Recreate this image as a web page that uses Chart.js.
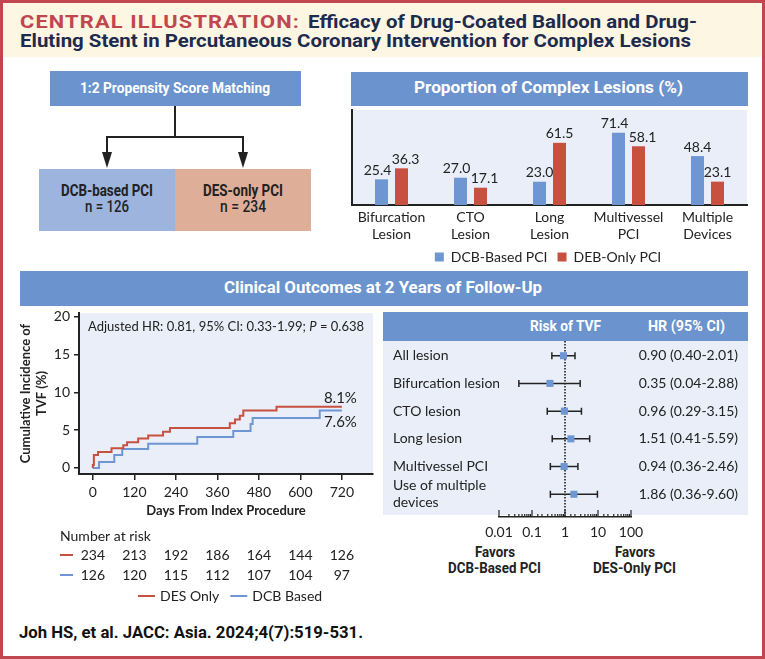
<!DOCTYPE html>
<html><head><meta charset="utf-8">
<script src="https://cdn.jsdelivr.net/npm/chart.js@4.4.1/dist/chart.umd.min.js"></script>
<style>
html,body{margin:0;padding:0;background:#fff;}
#page{position:relative;width:765px;height:659px;overflow:hidden;background:#fff;font-family:Roboto,'Noto Sans',sans-serif;}
.frame{position:absolute;left:0;top:0;width:765px;height:659px;box-sizing:border-box;border:3px solid #c0474f;z-index:20;pointer-events:none;}
.box{position:absolute;}
.t{position:absolute;white-space:nowrap;transform-origin:0 50%;z-index:15;}
canvas{position:absolute;}
</style></head>
<body>
<div id="page">
  <div class="frame"></div>
  <canvas id="bar" width="401" height="166" style="left:349px;top:108px;z-index:5"></canvas>
  <canvas id="km" width="380" height="300" style="left:0px;top:305px;z-index:5"></canvas>
  <canvas id="forest" width="365" height="200" style="left:383px;top:341px;z-index:6"></canvas>
  <svg id="flow" width="765" height="659" style="position:absolute;left:0;top:0;z-index:4" xmlns="http://www.w3.org/2000/svg"></svg>
</div>
<script>
// ---------------- DATA ----------------
const barCategories = [['Bifurcation','Lesion'],['CTO','Lesion'],['Long','Lesion'],['Multivessel','PCI'],['Multiple','Devices']];
const barSeriesNames = ['DCB-Based PCI','DEB-Only PCI'];
const dcbBasedPct = [25.4, 27.0, 23.0, 71.4, 48.4];
const debOnlyPct  = [36.3, 17.1, 61.5, 58.1, 23.1];

const kmSeriesNames = ['DES Only','DCB Based'];
const desDays = [0, 0, 3, 15, 54, 88, 99, 131, 160, 203, 223, 396, 411, 425, 435, 531, 720];
const desTVF  = [0, 0.4, 1.7, 2.1, 2.6, 3.0, 3.4, 3.9, 4.3, 4.8, 5.3, 5.9, 6.4, 6.9, 7.6, 8.1, 8.1];
const dcbDays = [0, 18, 62, 85, 160, 302, 406, 456, 462, 656, 720];
const dcbTVF  = [0, 0.8, 1.7, 2.5, 3.2, 4.1, 4.9, 5.8, 6.6, 7.6, 7.6];
const kmDayTicks = [0, 120, 240, 360, 480, 600, 720];
const kmPctTicks = [0, 5, 10, 15, 20];
const riskDES = [234, 213, 192, 186, 164, 144, 126];
const riskDCB = [126, 120, 115, 112, 107, 104, 97];
const adjustedHR = '0.81', adjustedCI = '0.33-1.99', adjustedP = '0.638';

const forestRows = ['All lesion','Bifurcation lesion','CTO lesion','Long lesion','Multivessel PCI',['Use of multiple','devices']];
const forestHR = [0.90, 0.35, 0.96, 1.51, 0.94, 1.86];
const forestLo = [0.40, 0.04, 0.29, 0.41, 0.36, 0.36];
const forestHi = [2.01, 2.88, 3.15, 5.59, 2.46, 9.60];
const forestTicks = [0.01, 0.1, 1, 10, 100];

// ---------------- STYLE ----------------
const HDR = '#6b93cd', BLUE = '#6e96d3', RED = '#c8503e', PANEL = '#e9eef8', TXT = '#222', NAVY = '#1d2b4f';
Chart.defaults.font.family = 'Lato';
Chart.defaults.color = TXT;
const noPad = s => { s.paddingTop = 0; s.paddingBottom = 0; s.paddingLeft = 0; s.paddingRight = 0; };

const page = document.getElementById('page');
function rect(l,t,w,h,bg,z){const d=document.createElement('div');d.className='box';Object.assign(d.style,{left:l+'px',top:t+'px',width:w+'px',height:h+'px',background:bg,zIndex:z||1});page.appendChild(d);return d;}
function txt(s,left,yc,w,size,color,weight,ls,fam){
  const d=document.createElement('div');d.className='t';d.textContent=s;
  Object.assign(d.style,{left:left+'px',top:(yc-size/2)+'px',fontSize:size+'px',lineHeight:size+'px',color:color,fontWeight:weight||700,letterSpacing:(ls||0)+'px',fontFamily:fam||"Roboto,'Noto Sans',sans-serif"});
  page.appendChild(d);
  const nat=d.getBoundingClientRect().width;
  d.style.transform='scaleX('+(w/nat)+')';
}

// header band
rect(3,3,759,54,'#fdf6e2',1);
txt('CENTRAL ILLUSTRATION:',20,21.7,280,19,'#c0474f',700,1);
txt('Efficacy of Drug-Coated Balloon and Drug-',308,21.7,389,19,NAVY,700);
txt('Eluting Stent in Percutaneous Coronary Intervention for Complex Lesions',20,40,671,19,NAVY,700);

// flow chart
rect(50,71,251,35,HDR,2);
txt('1:2 Propensity Score Matching',80,88,190,15,'#fff',700);
rect(39,169,136,62,'#9db4de',2);
rect(175,169,136,62,'#deae98',2);
txt('DCB-based PCI',61,191,92,16,TXT,700);
txt('n = 126',85,207,44,16,TXT,500);
txt('DES-only PCI',203,191,80,16,TXT,700);
txt('n = 234',220,207,46,16,TXT,500);
document.getElementById('flow').innerHTML =
  '<path d="M175 106 V137 M107 137 H243 M107 136 V153 M243 136 V153" stroke="#222" stroke-width="2" fill="none"/>'+
  '<path d="M102 152 L112 152 L107 168 Z M238 152 L248 152 L243 168 Z" fill="#222"/>';

// bar header
rect(351,72,397,34,HDR,2);
txt('Proportion of Complex Lesions (%)',414,88,269,16,'#fff',700);
rect(352,110,395,95,PANEL,1);

// clinical header
rect(20,271,728,35,HDR,2);
txt('Clinical Outcomes at 2 Years of Follow-Up',224,288,318,16,'#fff',700);

// forest header & panel
rect(383,312,365,29,HDR,2);
txt('Risk of TVF',530,326,71,14,'#fff',700);
txt('HR (95% CI)',648,326,77,14,'#fff',700);
rect(383,341,365,174,PANEL,1);
txt('Favors',475,552,40,14,TXT,700);
txt('DCB-Based PCI',448,568,93,14,TXT,700);
txt('Favors',615,552,40,14,TXT,700);
txt('DES-Only PCI',593,568,83,14,TXT,700);

// citation
txt('Joh HS, et al. JACC: Asia. 2024;4(7):519-531.',19,632.5,344,16,'#111',700);

// ---------------- BAR CHART ----------------
const barLabelPlugin = {
  id:'barLabels',
  afterDatasetsDraw(chart){
    const ctx=chart.ctx; ctx.save();
    ctx.font='14px Lato'; ctx.fillStyle=TXT; ctx.textAlign='center'; ctx.textBaseline='bottom';
    const m0=chart.getDatasetMeta(0).data, m1=chart.getDatasetMeta(1).data;
    chart.data.datasets.forEach((ds,di)=>{
      chart.getDatasetMeta(di).data.forEach((bar,i)=>{
        const close=Math.abs(m0[i].y-m1[i].y)<18;
        const shift=close?(di===0?-4:4):0;
        ctx.fillText(ds.data[i].toFixed(1), bar.x+shift, bar.y-2);
      });
    });
    ctx.restore();
  }
};
new Chart(document.getElementById('bar'),{
  type:'bar',
  data:{labels:barCategories,datasets:[
    {label:barSeriesNames[0],data:dcbBasedPct,backgroundColor:BLUE,borderWidth:0},
    {label:barSeriesNames[1],data:debOnlyPct,backgroundColor:RED,borderWidth:0}]},
  options:{
    responsive:false,animation:false,devicePixelRatio:1,
    categoryPercentage:0.506,barPercentage:0.65,
    layout:{padding:{left:0,right:3,top:2,bottom:0}},
    plugins:{tooltip:{enabled:false},
      legend:{position:'bottom',labels:{font:{size:14},color:TXT,boxWidth:9,boxHeight:9,padding:10}}},
    scales:{
      x:{grid:{display:false,drawTicks:false},border:{display:true,color:TXT,width:2},
         ticks:{font:{size:14},color:TXT,padding:4,maxRotation:0,autoSkip:false},
         afterFit(s){s.height=35;}},
      y:{min:0,max:94,grid:{display:false,drawTicks:false},border:{display:true,color:TXT,width:2},
         ticks:{display:false},afterFit(s){s.width=3;}}
    }
  },
  plugins:[barLabelPlugin]
});

// ---------------- KM CHART ----------------
const kmPlugin = {
  id:'kmExtras',
  beforeDraw(chart){
    const {ctx,chartArea:a}=chart; ctx.save(); ctx.fillStyle=PANEL;
    ctx.fillRect(a.left,a.top,a.right-a.left,a.bottom-a.top); ctx.restore();
  },
  afterDraw(chart){
    const {ctx,chartArea:a,scales:{x,y}}=chart;
    const ds=chart.data.datasets;
    ctx.save(); ctx.fillStyle=TXT; ctx.textBaseline='middle';
    let tx=a.left+9, ty=a.top+14;
    const parts=[['Adjusted HR: '+adjustedHR+', 95% CI: '+adjustedCI+'; ','normal'],['P','italic'],[' = '+adjustedP,'normal']];
    parts.forEach(([s,st])=>{ctx.font=st+' 13px Lato';ctx.textAlign='left';ctx.fillText(s,tx,ty);tx+=ctx.measureText(s).width;});
    ctx.font='15px Lato'; ctx.textAlign='right';
    const offs=[-9,12];
    ds.forEach((d,i)=>{const last=d.data[d.data.length-1];
      ctx.fillText(last.y.toFixed(1)+'%', x.getPixelForValue(last.x)+15, y.getPixelForValue(last.y)+offs[i]);});
    ctx.font='14px Lato'; ctx.textAlign='left';
    const lx=a.left-19;
    ctx.fillText('Number at risk',lx,a.bottom+62);
    const rows=[riskDES,riskDCB];
    rows.forEach((r,ri)=>{
      const ry=a.bottom+81+ri*20;
      ctx.strokeStyle=ds[ri].borderColor; ctx.lineWidth=2;
      ctx.beginPath(); ctx.moveTo(lx,ry); ctx.lineTo(lx+13,ry); ctx.stroke();
      ctx.textAlign='center';
      r.forEach((n,k)=>ctx.fillText(String(n),x.getPixelForValue(kmDayTicks[k]),ry));
      ctx.textAlign='left';
    });
    let gx=138; const gy=a.bottom+122;
    ds.forEach((d)=>{
      ctx.strokeStyle=d.borderColor; ctx.lineWidth=2;
      ctx.beginPath(); ctx.moveTo(gx,gy); ctx.lineTo(gx+17,gy); ctx.stroke();
      gx+=22; ctx.fillText(d.label,gx,gy); gx+=ctx.measureText(d.label).width+11;
    });
    ctx.restore();
  }
};
new Chart(document.getElementById('km'),{
  type:'line',
  data:{datasets:[
    {label:kmSeriesNames[0],data:desDays.map((d,i)=>({x:d,y:desTVF[i]})),stepped:'before',borderColor:RED,borderWidth:2,pointRadius:0,fill:false},
    {label:kmSeriesNames[1],data:dcbDays.map((d,i)=>({x:d,y:dcbTVF[i]})),stepped:'before',borderColor:BLUE,borderWidth:2,pointRadius:0,fill:false}]},
  options:{
    responsive:false,animation:false,devicePixelRatio:1,
    layout:{padding:{left:0,right:7,top:8,bottom:0}},
    plugins:{legend:{display:false},tooltip:{enabled:false}},
    scales:{
      x:{type:'linear',min:-40,max:810,
         afterBuildTicks(s){s.ticks=kmDayTicks.map(v=>({value:v}));},
         grid:{display:true,drawOnChartArea:false,drawTicks:true,tickLength:6,color:TXT,lineWidth:1.5},
         border:{display:true,color:TXT,width:2},
         ticks:{font:{size:14},color:TXT,padding:4,maxRotation:0,autoSkip:false},
         title:{display:true,text:'Days From Index Procedure',font:{size:13,weight:'bold'},color:TXT,padding:{top:0,bottom:86}},
         afterFit(s){s.height=131;noPad(s);}},
      y:{type:'linear',min:-0.8,max:20.5,
         afterBuildTicks(s){s.ticks=kmPctTicks.map(v=>({value:v}));},
         grid:{display:true,drawOnChartArea:false,drawTicks:true,tickLength:5,color:TXT,lineWidth:1.5},
         border:{display:true,color:TXT,width:2},
         ticks:{font:{size:14},color:TXT,padding:4,autoSkip:false},
         title:{display:true,text:['Cumulative Incidence of','TVF (%)'],font:{size:13,weight:'bold'},color:TXT,padding:{top:18,bottom:0}},
         afterFit(s){s.width=79;noPad(s);}}
    }
  },
  plugins:[kmPlugin]
});

// ---------------- FOREST PLOT ----------------
const hrLabels = forestHR.map((v,i)=>v.toFixed(2)+' ('+forestLo[i].toFixed(2)+'-'+forestHi[i].toFixed(2)+')');
const isDecade = v => Math.abs(Math.log10(v)-Math.round(Math.log10(v)))<1e-6;
const forestPlugin = {
  id:'forestExtras',
  beforeDatasetsDraw(chart){
    const {ctx,chartArea:a,scales:{x,y}}=chart; ctx.save();
    const x1=x.getPixelForValue(1);
    ctx.strokeStyle='#111'; ctx.lineWidth=1.5; ctx.setLineDash([1.5,1.5]);
    ctx.beginPath(); ctx.moveTo(x1,0); ctx.lineTo(x1,a.bottom); ctx.stroke();
    ctx.setLineDash([]);
    ctx.strokeStyle=TXT; ctx.lineWidth=1.5;
    forestHR.forEach((v,i)=>{
      const yy=y.getPixelForValue(i), xl=x.getPixelForValue(forestLo[i]), xh=x.getPixelForValue(forestHi[i]);
      ctx.beginPath(); ctx.moveTo(xl,yy); ctx.lineTo(xh,yy);
      ctx.moveTo(xl,yy-3.5); ctx.lineTo(xl,yy+3.5); ctx.moveTo(xh,yy-3.5); ctx.lineTo(xh,yy+3.5); ctx.stroke();
    });
    ctx.restore();
  },
  afterDraw(chart){
    const {ctx,chartArea:a,scales:{x}}=chart; ctx.save();
    ctx.strokeStyle=TXT; ctx.lineWidth=1.2;
    x.ticks.forEach(t=>{
      const px=x.getPixelForValue(t.value); const len=isDecade(t.value)?7:3;
      ctx.beginPath(); ctx.moveTo(px,a.bottom); ctx.lineTo(px,a.bottom-len); ctx.stroke();
    });
    ctx.restore();
  }
};
new Chart(document.getElementById('forest'),{
  type:'scatter',
  data:{datasets:[{label:'HR',data:forestHR.map((v,i)=>({x:v,y:i})),pointStyle:'rect',pointRadius:5,backgroundColor:BLUE,borderWidth:0}]},
  options:{
    responsive:false,animation:false,devicePixelRatio:1,
    layout:{padding:{left:10,right:10,top:0,bottom:0}},
    plugins:{legend:{display:false},tooltip:{enabled:false}},
    scales:{
      x:{type:'logarithmic',min:0.01,max:100,
         grid:{display:false,drawTicks:false},border:{display:true,color:TXT,width:1.5},
         ticks:{font:{size:14},color:TXT,padding:7,autoSkip:false,maxRotation:0,
                callback:(v)=>{const k=forestTicks.findIndex(t=>Math.abs(Math.log10(t)-Math.log10(v))<1e-6);return k>=0?String(forestTicks[k]):'';}},
         afterFit(s){s.height=24;noPad(s);}},
      y:{type:'linear',position:'left',min:-0.35,max:5.82,reverse:true,
         afterBuildTicks(s){s.ticks=forestRows.map((r,i)=>({value:i}));},
         grid:{display:false,drawTicks:false},border:{display:false},
         ticks:{font:{size:14},color:TXT,padding:0,crossAlign:'far',autoSkip:false,callback:(v)=>forestRows[v]},
         afterFit(s){s.width=106;noPad(s);}},
      y2:{type:'linear',position:'right',min:-0.35,max:5.82,reverse:true,
         afterBuildTicks(s){s.ticks=hrLabels.map((r,i)=>({value:i}));},
         grid:{display:false,drawTicks:false},border:{display:false},
         ticks:{font:{size:14},color:TXT,padding:0,crossAlign:'far',autoSkip:false,callback:(v)=>hrLabels[v]},
         afterFit(s){s.width=107;noPad(s);}}
    }
  },
  plugins:[forestPlugin]
});
</script>
</body></html>
